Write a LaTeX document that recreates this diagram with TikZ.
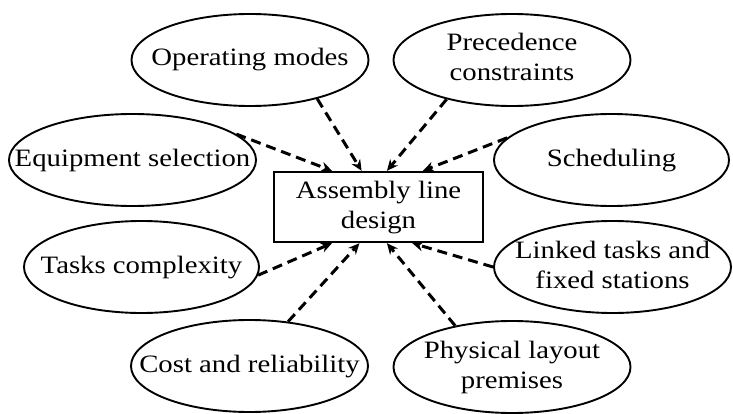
\documentclass[tikz,border=0pt]{standalone}
\usepackage{fontspec}
\setmainfont{Liberation Serif}
\usetikzlibrary{shapes.geometric,arrows.meta,calc}

% centred, slightly widened label that does not enlarge its node
\newcommand{\ovaltext}[1]{\makebox[0pt][c]{\scalebox{1.15}[1]{\begin{tabular}{@{}c@{}}#1\end{tabular}}}}

\tikzset{
  topic/.style={ellipse, draw, line width=1.9pt, minimum width=237pt,
    minimum height=92pt, inner sep=0pt},
  core/.style={rectangle, draw, line width=2.4pt, minimum width=209pt,
    minimum height=70pt, inner sep=0pt},
  feed/.style={line width=3pt, dash pattern=on 10pt off 6pt,
    -{Stealth[length=11pt,width=10pt]}},
}

\begin{document}
\begin{tikzpicture}[x=1pt,y=1pt,
  every node/.style={font=\fontsize{25}{30}\selectfont}]
\useasboundingbox (0,0) rectangle (733,413);

% central box
\node[core] (box) at (378.5,206) {\ovaltext{Assembly line\\design}};

% surrounding factors
\node[topic] (om) at (250,353) {\ovaltext{Operating modes}};
\node[topic] (pc) at (512,353) {\ovaltext{Precedence\\constraints}};
\node[topic, minimum width=247pt] (eq) at (132.5,253) {\ovaltext{Equipment selection}};
\node[topic, minimum width=235pt] (sc) at (611.5,253) {\ovaltext{Scheduling}};
\node[topic, minimum width=235pt] (tc) at (141.5,146) {\ovaltext{Tasks complexity}};
\node[topic] (lt) at (612.5,146) {\ovaltext{Linked tasks and\\fixed stations}};
\node[topic] (cr) at (249.5,47) {\ovaltext{Cost and reliability}};
\node[topic] (pl) at (512,46) {\ovaltext{Physical layout\\premises}};

% influences pointing at the box
\draw[feed] (eq.14)   -- ($(box.north west)!0.28!(box.north east)$);
\draw[feed] (om.-30)  -- ($(box.north west)!0.42!(box.north east)$);
\draw[feed] (pc.-149) -- ($(box.north west)!0.54!(box.north east)$);
\draw[feed] (sc.168)  -- ($(box.north west)!0.71!(box.north east)$);
\draw[feed] (tc.-4)   -- ($(box.south west)!0.28!(box.south east)$);
\draw[feed] (cr.49)   -- ($(box.south west)!0.41!(box.south east)$);
\draw[feed] (pl.144)  -- ($(box.south west)!0.54!(box.south east)$);
\draw[feed] (lt.180)  -- ($(box.south west)!0.66!(box.south east)$);
\end{tikzpicture}
\end{document}
